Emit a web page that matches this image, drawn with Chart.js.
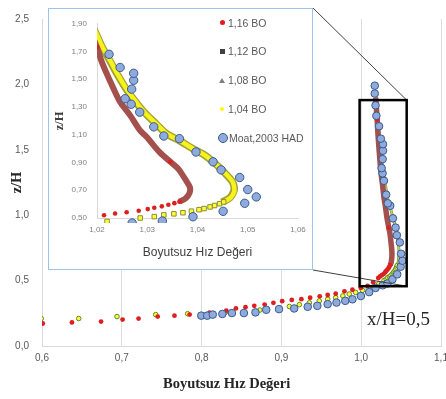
<!DOCTYPE html>
<html>
<head>
<meta charset="utf-8">
<script src="https://cdn.jsdelivr.net/npm/chart.js@4.4.1/dist/chart.umd.min.js"></script>
<style>
	body { margin: 0; background: #fff; }
	#wrap { position: relative; width: 446px; height: 399px; overflow: hidden; }
	#main { position: absolute; left: 0; top: 0; }
	#insetBox { position: absolute; left: 48px; top: 8px; width: 263px; height: 260px; border: 1px solid #9DC3E6; background: #fff; }
	#inset { position: absolute; left: 0; top: 0; }
	.lg { position: absolute; font: 10.5px "Liberation Sans", Arial, sans-serif; color: #595959; white-space: nowrap; line-height: 12px; }
	.mk { position: absolute; }
	#xh { position: absolute; left: 367px; top: 309px; font: 19px "Liberation Serif", serif; color: #262626; line-height: 19px; }
	#xtitle { position: absolute; left: 163px; top: 375px; font: bold 14.5px "Liberation Serif", serif; color: #262626; line-height: 17px; white-space: nowrap; }
</style>
</head>
<body>
<div id="wrap">
	<canvas id="main" width="446" height="399"></canvas>
	<div id="insetBox"><canvas id="inset" width="263" height="260"></canvas></div>
	<div id="xtitle">Boyutsuz Hız Değeri</div>
	<div id="xh">x/H=0,5</div>
</div>
<script>
	// 시리즈 이름 (범례)
	const seriesNames = ['1,16 BO', '1,12 BO', '1,08 BO', '1,04 BO', 'Moat,2003 HAD'];

	// 눈금 라벨
	const mainXTicks = ['0,6', '0,7', '0,8', '0,9', '1,0', '1,1'];
	const mainYTicks = ['0,0', '0,5', '1,0', '1,5', '2,0', '2,5'];
	const insetXTicks = ['1,02', '1,03', '1,04', '1,05', '1,06'];
	const insetYTicks = ['0,50', '0,70', '0,90', '1,10', '1,30', '1,50', '1,70', '1,90'];

	// 1,16 BO (빨간 점)
	const bo116 = [
		[0.601, 0.172], [0.6375, 0.18], [0.674, 0.187], [0.701, 0.202], [0.721, 0.21], [0.745, 0.225],
		[0.766, 0.232], [0.785, 0.24], [0.81, 0.255], [0.831, 0.27], [0.843, 0.287], [0.855, 0.297],
		[0.866, 0.307], [0.879, 0.317], [0.89, 0.33], [0.901, 0.343], [0.913, 0.352], [0.925, 0.358],
		[0.936, 0.369], [0.948, 0.38], [0.958, 0.39], [0.968, 0.4], [0.979, 0.418], [0.989, 0.43],
		[0.9995, 0.444], [1.008, 0.46], [1.015, 0.488], [1.0214, 0.52], [1.0236, 0.532], [1.0259, 0.541],
		[1.0283, 0.552], [1.0301, 0.564], [1.0314, 0.574], [1.0329, 0.584], [1.0342, 0.595], [1.0354, 0.607],
		[1.0364, 0.618], [1.0346, 0.905], [1.02, 1.73]
	];

	// 1,12 BO (갈색 띠)
	const bo112 = [
		[1.0364, 0.618], [1.0376, 0.64], [1.0384, 0.68], [1.0385, 0.72], [1.0379, 0.76], [1.0372, 0.8],
		[1.0362, 0.854], [1.0346, 0.905], [1.0323, 0.98], [1.0299, 1.084], [1.0286, 1.13], [1.0266, 1.24],
		[1.0246, 1.337], [1.0232, 1.44], [1.0219, 1.543], [1.0208, 1.64], [1.02, 1.73], [1.019, 1.82], [1.018, 1.9]
	];

	// 1,08 BO (올리브 띠)
	const bo108 = [
		[1.0449, 0.614], [1.0465, 0.648], [1.0472, 0.69], [1.0473, 0.72], [1.0469, 0.764], [1.0452, 0.832],
		[1.0436, 0.889], [1.0412, 0.958], [1.039, 1.001], [1.0365, 1.056], [1.0338, 1.108], [1.0318, 1.177],
		[1.0292, 1.27], [1.0274, 1.35], [1.0258, 1.43], [1.0241, 1.531], [1.0225, 1.637], [1.0209, 1.74],
		[1.0198, 1.83], [1.0188, 1.9]
	];

	// 1,04 BO (노란 점 + 위쪽 띠)
	const bo104 = [
		[0.599, 0.21], [0.646, 0.21], [0.694, 0.225], [0.7425, 0.24], [0.7825, 0.247], [0.83, 0.258],
		[0.873, 0.275], [0.91, 0.302], [0.9225, 0.316], [0.935, 0.33], [0.9475, 0.345], [0.958, 0.358],
		[0.968, 0.37], [0.977, 0.383], [0.985, 0.397], [0.993, 0.41], [1.0016, 0.425], [1.009, 0.44],
		[1.016, 0.458], [1.022, 0.475], [1.0286, 0.5], [1.0314, 0.51], [1.0333, 0.522], [1.0353, 0.53],
		[1.0371, 0.538], [1.0388, 0.549], [1.0403, 0.56], [1.0413, 0.568], [1.0425, 0.58], [1.0434, 0.59],
		[1.0444, 0.603], [1.0452, 0.616]
	];
	const bo104Top = [
		[1.0452, 0.616], [1.0466, 0.647], [1.0473, 0.69], [1.0473, 0.72], [1.047, 0.762], [1.0453, 0.831],
		[1.0437, 0.888], [1.0413, 0.957], [1.0391, 1.0], [1.0366, 1.055], [1.0339, 1.107], [1.0319, 1.176],
		[1.0293, 1.268], [1.0275, 1.35], [1.0259, 1.429], [1.0242, 1.53], [1.0226, 1.636], [1.021, 1.74],
		[1.0199, 1.83], [1.019, 1.9]
	];

	// Moat, 2003 HAD (파란 원)
	const moat = [
		[0.7996, 0.232], [0.807, 0.232], [0.814, 0.24], [0.826, 0.245], [0.838, 0.252], [0.853, 0.252],
		[0.8675, 0.257], [0.881, 0.277], [0.897, 0.282], [0.916, 0.287], [0.933, 0.3], [0.945, 0.307],
		[0.958, 0.32], [0.969, 0.332], [0.98, 0.345], [0.989, 0.357], [0.9996, 0.382], [1.01, 0.412],
		[1.018, 0.444], [1.027, 0.464], [1.033, 0.478], [1.0391, 0.509], [1.0451, 0.548], [1.0494, 0.606],
		[1.0517, 0.652], [1.05, 0.705], [1.0484, 0.792], [1.0447, 0.847], [1.0431, 0.905], [1.0397, 0.976],
		[1.0364, 1.072], [1.0333, 1.091], [1.0313, 1.157], [1.0285, 1.263], [1.0268, 1.32], [1.0256, 1.36],
		[1.0269, 1.429], [1.0273, 1.493], [1.0273, 1.543], [1.0246, 1.585], [1.0224, 1.68], [1.019, 1.76],
		[1.018, 1.84], [1.017, 1.93], [1.017, 1.99]
	];

	// 확대 영역 (사각형)
	const zoomX = [0.998, 1.057];
	const zoomY = [0.457, 1.88];

	const num = s => parseFloat(s.replace(',', '.'));
	const pts = a => a.map(p => ({ x: p[0], y: p[1] }));

	Chart.defaults.font.family = '"Liberation Sans", Arial, sans-serif';
	Chart.defaults.animation = false;

	function buildSets(inset) {
		return [
			{ label: seriesNames[4], data: pts(moat), pointRadius: inset ? 4.2 : 3.8,
				pointBackgroundColor: '#8FAADC', pointBorderColor: '#3A5A8C', pointBorderWidth: 1 },
			{ label: seriesNames[0], data: pts(bo116), pointRadius: inset ? 2.3 : 2.4,
				pointBackgroundColor: '#DD1F1F', pointBorderWidth: 0 },
			{ label: seriesNames[1], data: pts(bo112), showLine: true, tension: 0.3,
				borderColor: '#A4514D', borderWidth: inset ? 6 : 5.5, pointRadius: 0 },
			{ label: seriesNames[3], data: pts(bo104), pointStyle: inset ? 'rect' : 'circle',
				pointRadius: inset ? 3.2 : 2.3, pointBackgroundColor: '#FFFF33',
				pointBorderColor: inset ? '#8C8C3A' : '#5E8A2E', pointBorderWidth: 1 },
			{ label: seriesNames[3], data: pts(bo104Top), showLine: true, tension: 0.3,
				borderColor: inset ? '#F5F21C' : '#C8CC60', borderWidth: inset ? 4.5 : 1.5, pointRadius: 0 },
			{ label: seriesNames[2], data: pts(bo108), showLine: true, tension: 0.3,
				borderColor: inset ? '#A3A136' : '#7FA055', borderWidth: inset ? 7.5 : 3, pointRadius: 0 }
		];
	}

	function linAxis(labels, extra) {
		const vals = labels.map(num);
		return Object.assign({
			type: 'linear',
			min: vals[0],
			max: vals[vals.length - 1],
			afterBuildTicks: s => { s.ticks = vals.map(v => ({ value: v })); }
		}, extra);
	}

	const box = document.getElementById('insetBox');

	// 사각형 + 연결선
	const zoomFrame = {
		id: 'zoomFrame',
		afterDatasetsDraw(chart) {
			const { ctx, scales: { x, y } } = chart;
			const l = x.getPixelForValue(zoomX[0]), r = x.getPixelForValue(zoomX[1]);
			const t = y.getPixelForValue(zoomY[1]), b = y.getPixelForValue(zoomY[0]);
			const bx = box.offsetLeft + box.offsetWidth;
			const by0 = box.offsetTop, by1 = box.offsetTop + box.offsetHeight;
			ctx.save();
			ctx.strokeStyle = '#404040';
			ctx.lineWidth = 1;
			ctx.beginPath();
			ctx.moveTo(bx, by0); ctx.lineTo(r, t);
			ctx.moveTo(bx, by1); ctx.lineTo(r, b);
			ctx.stroke();
			ctx.strokeStyle = '#000';
			ctx.lineWidth = 2.5;
			ctx.strokeRect(l, t, r - l, b - t);
			ctx.restore();
		}
	};

	const mainChart = new Chart(document.getElementById('main'), {
		type: 'scatter',
		data: { datasets: buildSets(false) },
		options: {
			responsive: false,
			maintainAspectRatio: false,
			layout: { padding: { top: 12, right: 4, left: 0, bottom: 0 } },
			plugins: { legend: { display: false }, tooltip: { enabled: false } },
			scales: {
				x: linAxis(mainXTicks, {
					afterFit: s => { s.height = 53; s.paddingLeft = 0; s.paddingRight = 0; },
					grid: { color: '#DEDEDE', drawTicks: false },
					border: { display: true, color: '#D9D9D9' },
					ticks: { padding: 6, color: '#595959', font: { size: 10 }, callback: (v, i) => mainXTicks[i] }
				}),
				y: linAxis(mainYTicks, {
					afterFit: s => { s.width = 42; },
					grid: { display: false, drawTicks: false },
					border: { display: true, color: '#D9D9D9' },
					ticks: { padding: 13, color: '#595959', font: { size: 10 }, callback: (v, i) => mainYTicks[i] },
					title: { display: true, text: 'z/H', color: '#262626',
						font: { family: '"Liberation Serif", serif', size: 14.5, weight: 'bold' },
						padding: { top: 9, bottom: 0 } }
				})
			}
		},
		plugins: [zoomFrame]
	});

	const clipIn = { left: 0, top: 5, right: 5, bottom: 5 };
	const insetSets = buildSets(true).map(d => Object.assign(d, { clip: clipIn }));

	const insetChart = new Chart(document.getElementById('inset'), {
		type: 'scatter',
		data: { datasets: insetSets },
		options: {
			responsive: false,
			maintainAspectRatio: false,
			layout: { padding: { top: 6, right: 14, left: 0, bottom: 0 } },
			plugins: { legend: { display: false }, tooltip: { enabled: false } },
			scales: {
				x: linAxis(insetXTicks, {
					afterFit: s => { s.height = 51; s.paddingLeft = 0; s.paddingRight = 0; },
					grid: { display: false, drawTicks: false },
					border: { display: true, color: '#D9D9D9' },
					ticks: { padding: 7, color: '#7F7F7F', font: { size: 8 }, callback: (v, i) => insetXTicks[i] },
					title: { display: true, text: 'Boyutsuz Hız Değeri', color: '#404040',
						font: { size: 12 }, padding: { top: 0, bottom: 8.8 } }
				}),
				y: linAxis(insetYTicks, {
					afterFit: s => { s.width = 48; },
					grid: { display: false, drawTicks: false },
					border: { display: true, color: '#D9D9D9' },
					ticks: { padding: 10, color: '#7F7F7F', font: { size: 8 }, callback: (v, i) => insetYTicks[i] },
					title: { display: true, text: 'z/H', color: '#404040',
						font: { family: '"Liberation Serif", serif', size: 12.5, weight: 'bold' },
						padding: { top: 3.5, bottom: 0 } }
				})
			}
		}
	});

	// 범례 (HTML)
	const legendY = [22.5, 51, 80, 108.5, 137.5];
	const markerCss = [
		'left:220px;width:5px;height:5px;border-radius:50%;background:#DD1F1F;',
		'left:219.5px;width:5px;height:5px;background:#404040;',
		'left:219px;width:0;height:0;border-left:3px solid transparent;border-right:3px solid transparent;border-bottom:5px solid #808080;',
		'left:220px;width:4px;height:4px;border-radius:50%;background:#FFFF00;',
		'left:217.5px;width:8px;height:8px;border-radius:50%;background:#8FAADC;border:1px solid #3A5A8C;'
	];
	const markerH = [5, 5, 5, 4, 10];
	const wrap = document.getElementById('wrap');
	seriesNames.forEach((name, i) => {
		const m = document.createElement('div');
		m.className = 'mk';
		m.style.cssText = markerCss[i] + 'top:' + (legendY[i] - markerH[i] / 2) + 'px;';
		wrap.appendChild(m);
		const t = document.createElement('div');
		t.className = 'lg';
		t.textContent = name;
		t.style.left = (i === 4 ? 229 : 228) + 'px';
		t.style.top = (legendY[i] - 6) + 'px';
		wrap.appendChild(t);
	});
</script>
</body>
</html>
